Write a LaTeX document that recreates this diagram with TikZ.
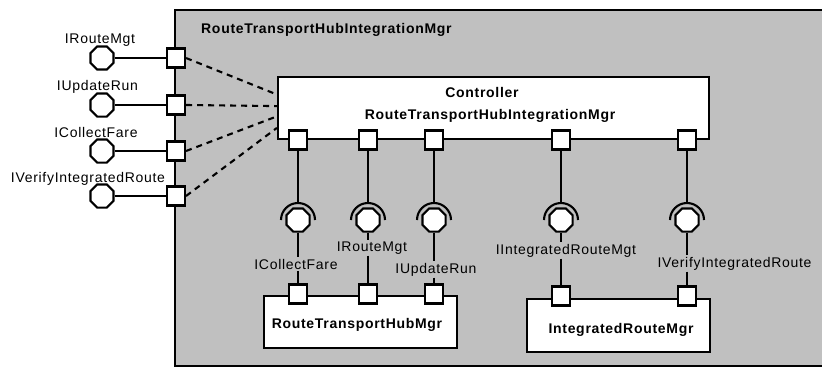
\documentclass[tikz,border=0pt]{standalone}
\usepackage{fontspec}
\setmainfont{Liberation Sans}[LetterSpace=5]
\usetikzlibrary{shapes.geometric,calc}
\definecolor{panelgray}{HTML}{C0C0C0}
\begin{document}
\begin{tikzpicture}[x=1pt,y=-1pt,
  every node/.style={font=\fontsize{14}{16}\selectfont},
  wire/.style={line width=2.1pt},
  port/.style={draw,fill=white,line width=2.1pt,minimum width=18pt,minimum height=19pt,inner sep=0pt},
  ball/.style={draw,fill=white,line width=2.1pt,regular polygon,regular polygon sides=8,minimum size=25pt,inner sep=0pt},
  part/.style={draw,fill=white,line width=2.1pt,inner sep=0pt},
  lbl/.style={inner sep=1.5pt,anchor=base},
  title/.style={font=\fontsize{14}{16}\selectfont\bfseries,inner sep=0pt,anchor=base},
  delegate/.style={line width=2.1pt,dash pattern=on 6pt off 5pt}]

\useasboundingbox (0,0) rectangle (822,367);
\fill[white] (0,0) rectangle (822,367);

% enclosing component
\begin{scope}
  \clip (0,0) rectangle (822,367);
  \draw[line width=2.2pt,fill=panelgray] (175,10) rectangle (840,366);
\end{scope}
\node[title,anchor=base west] (outerName) at (201,33) {RouteTransportHubIntegrationMgr};

% controller part
\node[part,minimum width=431pt,minimum height=62pt] (ctrl) at (493.5,108) {};
\node[title] (ctrlKind) at (482,97) {Controller};
\node[title] (ctrlName) at (490,119) {RouteTransportHubIntegrationMgr};

% inner parts
\node[part,minimum width=193pt,minimum height=52pt] (rthm) at (360.5,322) {};
\node[title] (rthmName) at (357,328) {RouteTransportHubMgr};
\node[part,minimum width=183pt,minimum height=53pt] (irm) at (618.5,325.5) {};
\node[title] (irmName) at (621,333) {IntegratedRouteMgr};

% ports on the controller
\foreach \n/\x in {1/298,2/368,3/434,4/561,5/687}
  \node[port] (cp\n) at (\x,140) {};

% ports on the inner parts
\node[port] (rp1) at (298,294) {};
\node[port] (rp2) at (368,294) {};
\node[port] (rp3) at (434,294) {};
\node[port] (ip1) at (561,296) {};
\node[port] (ip2) at (687,296) {};

% provided interfaces (balls) with sockets
\foreach \n/\x in {1/298,2/368,3/434,4/561,5/687}{
  \node[ball] (b\n) at (\x,220) {};
  \draw[wire] (b\n.center) ++(-17,0) arc[start angle=180,end angle=0,radius=17pt];
  \coordinate (s\n) at ($(b\n.center)+(0,-17)$);
}

% interface labels inside
\node[lbl] (l1) at (296,269) {ICollectFare};
\node[lbl] (l2) at (372,251) {IRouteMgt};
\node[lbl] (l3) at (436,273) {IUpdateRun};
\node[lbl] (l4) at (566,254) {IIntegratedRouteMgt};
\node[lbl] (l5) at (734.5,267) {IVerifyIntegratedRoute};

% assembly connectors
\draw[wire] (cp1.south) -- (s1);
\draw[wire] (cp2.south) -- (s2);
\draw[wire] (cp3.south) -- (s3);
\draw[wire] (cp4.south) -- (s4);
\draw[wire] (cp5.south) -- (s5);
\draw[wire] (b1.south) -- (b1.south |- l1.north);
\draw[wire] (b2.south) -- (b2.south |- l2.north);
\draw[wire] (b3.south) -- (b3.south |- l3.north);
\draw[wire] (b4.south) -- (b4.south |- l4.north);
\draw[wire] (b5.south) -- (b5.south |- l5.north);
\draw[wire] (rp1.north |- l1.south) -- (rp1.north);
\draw[wire] (rp2.north |- l2.south) -- (rp2.north);
\draw[wire] (rp3.north |- l3.south) -- (rp3.north);
\draw[wire] (ip1.north |- l4.south) -- (ip1.north);
\draw[wire] (ip2.north |- l5.south) -- (ip2.north);

% external ports and provided interfaces
\foreach \n/\y in {1/58,2/105,3/151,4/196}{
  \node[port] (lp\n) at (176,\y) {};
  \node[ball] (lb\n) at (102,\y) {};
  \draw[wire] (lb\n.east) -- (lp\n.west);
}
\node[lbl] (ll1) at (100,43) {IRouteMgt};
\node[lbl] (ll2) at (97.5,90) {IUpdateRun};
\node[lbl] (ll3) at (96,137) {ICollectFare};
\node[lbl] (ll4) at (88,182) {IVerifyIntegratedRoute};

% delegation connectors
\draw[delegate] (lp1.east) -- ($(ctrl.north west)!0.29!(ctrl.south west)$);
\draw[delegate] (lp2.east) -- ($(ctrl.north west)!0.47!(ctrl.south west)$);
\draw[delegate] (lp3.east) -- ($(ctrl.north west)!0.63!(ctrl.south west)$);
\draw[delegate] (lp4.east) -- ($(ctrl.north west)!0.81!(ctrl.south west)$);
\end{tikzpicture}
\end{document}
